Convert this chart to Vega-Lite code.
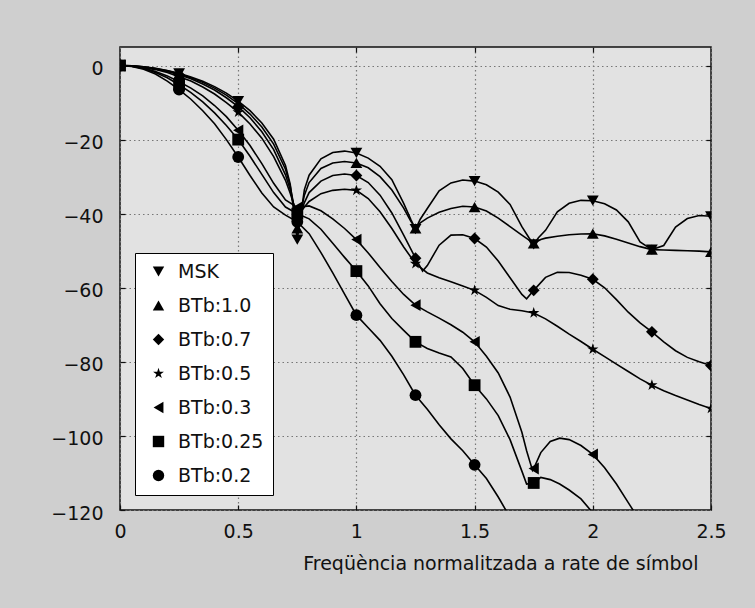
{
"$schema":"https://vega.github.io/schema/vega-lite/v6.json",
"width":591,"height":463,
"autosize":{"type":"none"},
"padding":{"left":120,"top":47,"right":44,"bottom":98},
"background":"#cfcfcf",
"config":{
 "view":{"fill":"#e2e2e2","stroke":"#111","strokeWidth":1.5},
 "font":"DejaVu Sans",
 "axis":{"domain":false,"labelFont":"DejaVu Sans","labelFontSize":19,"labelColor":"#111","labelFlush":false,"titleFont":"DejaVu Sans","titleFontWeight":"normal","titleColor":"#111","tickColor":"#111","tickWidth":1.2,"gridColor":"#777","gridDash":[1.5,3],"gridWidth":1.2},
 "legend":{"orient":"bottom-left","offset":15,"fillColor":"#ffffff","strokeColor":"#000","padding":9,"labelFont":"DejaVu Sans","labelFontSize":19,"labelColor":"#111","symbolSize":130,"rowPadding":14,"labelOffset":10,"symbolOffset":5,"symbolStrokeWidth":0}
},
"datasets":{"psd":[
{"s":"MSK","f":0,"p":0},{"s":"MSK","f":0.05,"p":-0.08},{"s":"MSK","f":0.1,"p":-0.33},{"s":"MSK","f":0.15,"p":-0.75},{"s":"MSK","f":0.2,"p":-1.33},{"s":"MSK","f":0.25,"p":-2.1},{"s":"MSK","f":0.3,"p":-3.07},{"s":"MSK","f":0.35,"p":-4.26},{"s":"MSK","f":0.4,"p":-5.7},{"s":"MSK","f":0.45,"p":-7.44},{"s":"MSK","f":0.5,"p":-9.6},{"s":"MSK","f":0.55,"p":-12.2},{"s":"MSK","f":0.6,"p":-15.5},{"s":"MSK","f":0.65,"p":-19.9},{"s":"MSK","f":0.7,"p":-27},{"s":"MSK","f":0.72,"p":-32},{"s":"MSK","f":0.74,"p":-42},{"s":"MSK","f":0.75,"p":-47},{"s":"MSK","f":0.76,"p":-42.5},{"s":"MSK","f":0.78,"p":-33.5},{"s":"MSK","f":0.8,"p":-29.6},{"s":"MSK","f":0.85,"p":-25.2},{"s":"MSK","f":0.9,"p":-23.5},{"s":"MSK","f":0.95,"p":-23.1},{"s":"MSK","f":1.0,"p":-23.6},{"s":"MSK","f":1.05,"p":-25},{"s":"MSK","f":1.1,"p":-27.2},{"s":"MSK","f":1.15,"p":-30.8},{"s":"MSK","f":1.2,"p":-37.2},{"s":"MSK","f":1.23,"p":-41.5},{"s":"MSK","f":1.25,"p":-44.2},{"s":"MSK","f":1.27,"p":-41.5},{"s":"MSK","f":1.3,"p":-38.6},{"s":"MSK","f":1.35,"p":-33.8},{"s":"MSK","f":1.4,"p":-31.7},{"s":"MSK","f":1.45,"p":-30.9},{"s":"MSK","f":1.5,"p":-31.2},{"s":"MSK","f":1.55,"p":-32.2},{"s":"MSK","f":1.6,"p":-34.2},{"s":"MSK","f":1.65,"p":-37.5},{"s":"MSK","f":1.7,"p":-43.5},{"s":"MSK","f":1.73,"p":-46.5},{"s":"MSK","f":1.75,"p":-48.3},{"s":"MSK","f":1.77,"p":-46.5},{"s":"MSK","f":1.8,"p":-44.5},{"s":"MSK","f":1.85,"p":-39.5},{"s":"MSK","f":1.9,"p":-37.2},{"s":"MSK","f":1.95,"p":-36.4},{"s":"MSK","f":2.0,"p":-36.5},{"s":"MSK","f":2.05,"p":-37.3},{"s":"MSK","f":2.1,"p":-39},{"s":"MSK","f":2.15,"p":-42.2},{"s":"MSK","f":2.2,"p":-47.6},{"s":"MSK","f":2.25,"p":-49.7},{"s":"MSK","f":2.3,"p":-48.6},{"s":"MSK","f":2.35,"p":-43.6},{"s":"MSK","f":2.4,"p":-41.3},{"s":"MSK","f":2.45,"p":-40.5},{"s":"MSK","f":2.5,"p":-40.7},
{"s":"BTb:1.0","f":0,"p":0},{"s":"BTb:1.0","f":0.05,"p":-0.09},{"s":"BTb:1.0","f":0.1,"p":-0.35},{"s":"BTb:1.0","f":0.15,"p":-0.8},{"s":"BTb:1.0","f":0.2,"p":-1.42},{"s":"BTb:1.0","f":0.25,"p":-2.25},{"s":"BTb:1.0","f":0.3,"p":-3.3},{"s":"BTb:1.0","f":0.35,"p":-4.55},{"s":"BTb:1.0","f":0.4,"p":-6.1},{"s":"BTb:1.0","f":0.45,"p":-8},{"s":"BTb:1.0","f":0.5,"p":-10.3},{"s":"BTb:1.0","f":0.55,"p":-13.1},{"s":"BTb:1.0","f":0.6,"p":-16.6},{"s":"BTb:1.0","f":0.65,"p":-21.2},{"s":"BTb:1.0","f":0.7,"p":-28},{"s":"BTb:1.0","f":0.72,"p":-32.5},{"s":"BTb:1.0","f":0.74,"p":-39.5},{"s":"BTb:1.0","f":0.75,"p":-44},{"s":"BTb:1.0","f":0.76,"p":-41},{"s":"BTb:1.0","f":0.78,"p":-35},{"s":"BTb:1.0","f":0.8,"p":-31.6},{"s":"BTb:1.0","f":0.85,"p":-27.8},{"s":"BTb:1.0","f":0.9,"p":-26.3},{"s":"BTb:1.0","f":0.95,"p":-25.9},{"s":"BTb:1.0","f":1.0,"p":-26.3},{"s":"BTb:1.0","f":1.05,"p":-27.6},{"s":"BTb:1.0","f":1.1,"p":-30},{"s":"BTb:1.0","f":1.15,"p":-33.6},{"s":"BTb:1.0","f":1.2,"p":-38.5},{"s":"BTb:1.0","f":1.23,"p":-42},{"s":"BTb:1.0","f":1.25,"p":-44},{"s":"BTb:1.0","f":1.27,"p":-42.5},{"s":"BTb:1.0","f":1.3,"p":-41.2},{"s":"BTb:1.0","f":1.35,"p":-39.6},{"s":"BTb:1.0","f":1.4,"p":-38.6},{"s":"BTb:1.0","f":1.45,"p":-38},{"s":"BTb:1.0","f":1.5,"p":-38.2},{"s":"BTb:1.0","f":1.55,"p":-39.3},{"s":"BTb:1.0","f":1.6,"p":-41.2},{"s":"BTb:1.0","f":1.65,"p":-43.5},{"s":"BTb:1.0","f":1.7,"p":-45.8},{"s":"BTb:1.0","f":1.75,"p":-48},{"s":"BTb:1.0","f":1.78,"p":-47},{"s":"BTb:1.0","f":1.8,"p":-46.6},{"s":"BTb:1.0","f":1.85,"p":-46.1},{"s":"BTb:1.0","f":1.9,"p":-45.7},{"s":"BTb:1.0","f":1.95,"p":-45.5},{"s":"BTb:1.0","f":2.0,"p":-45.4},{"s":"BTb:1.0","f":2.05,"p":-46},{"s":"BTb:1.0","f":2.1,"p":-46.9},{"s":"BTb:1.0","f":2.15,"p":-47.9},{"s":"BTb:1.0","f":2.2,"p":-48.9},{"s":"BTb:1.0","f":2.25,"p":-49.7},{"s":"BTb:1.0","f":2.3,"p":-49.8},{"s":"BTb:1.0","f":2.35,"p":-49.9},{"s":"BTb:1.0","f":2.4,"p":-50},{"s":"BTb:1.0","f":2.45,"p":-50.1},{"s":"BTb:1.0","f":2.5,"p":-50.3},
{"s":"BTb:0.7","f":0,"p":0},{"s":"BTb:0.7","f":0.05,"p":-0.1},{"s":"BTb:0.7","f":0.1,"p":-0.4},{"s":"BTb:0.7","f":0.15,"p":-0.9},{"s":"BTb:0.7","f":0.2,"p":-1.6},{"s":"BTb:0.7","f":0.25,"p":-2.5},{"s":"BTb:0.7","f":0.3,"p":-3.6},{"s":"BTb:0.7","f":0.35,"p":-5},{"s":"BTb:0.7","f":0.4,"p":-6.6},{"s":"BTb:0.7","f":0.45,"p":-8.7},{"s":"BTb:0.7","f":0.5,"p":-11.1},{"s":"BTb:0.7","f":0.55,"p":-14.1},{"s":"BTb:0.7","f":0.6,"p":-17.9},{"s":"BTb:0.7","f":0.65,"p":-22.7},{"s":"BTb:0.7","f":0.7,"p":-29.5},{"s":"BTb:0.7","f":0.72,"p":-33.5},{"s":"BTb:0.7","f":0.74,"p":-39},{"s":"BTb:0.7","f":0.75,"p":-42},{"s":"BTb:0.7","f":0.76,"p":-40.8},{"s":"BTb:0.7","f":0.78,"p":-37},{"s":"BTb:0.7","f":0.8,"p":-34.3},{"s":"BTb:0.7","f":0.85,"p":-31.2},{"s":"BTb:0.7","f":0.9,"p":-29.7},{"s":"BTb:0.7","f":0.95,"p":-29.3},{"s":"BTb:0.7","f":1.0,"p":-29.7},{"s":"BTb:0.7","f":1.05,"p":-31.6},{"s":"BTb:0.7","f":1.1,"p":-35},{"s":"BTb:0.7","f":1.15,"p":-39.8},{"s":"BTb:0.7","f":1.2,"p":-45.8},{"s":"BTb:0.7","f":1.25,"p":-52},{"s":"BTb:0.7","f":1.28,"p":-55.5},{"s":"BTb:0.7","f":1.3,"p":-54},{"s":"BTb:0.7","f":1.35,"p":-48.5},{"s":"BTb:0.7","f":1.4,"p":-45.8},{"s":"BTb:0.7","f":1.45,"p":-45.7},{"s":"BTb:0.7","f":1.5,"p":-46.7},{"s":"BTb:0.7","f":1.55,"p":-49},{"s":"BTb:0.7","f":1.6,"p":-52.8},{"s":"BTb:0.7","f":1.65,"p":-57.3},{"s":"BTb:0.7","f":1.7,"p":-61.8},{"s":"BTb:0.7","f":1.72,"p":-63},{"s":"BTb:0.7","f":1.75,"p":-60.7},{"s":"BTb:0.7","f":1.8,"p":-57.2},{"s":"BTb:0.7","f":1.85,"p":-55.8},{"s":"BTb:0.7","f":1.9,"p":-55.9},{"s":"BTb:0.7","f":1.95,"p":-56.6},{"s":"BTb:0.7","f":2.0,"p":-57.7},{"s":"BTb:0.7","f":2.05,"p":-60},{"s":"BTb:0.7","f":2.1,"p":-63.2},{"s":"BTb:0.7","f":2.15,"p":-66.6},{"s":"BTb:0.7","f":2.2,"p":-69.5},{"s":"BTb:0.7","f":2.25,"p":-71.9},{"s":"BTb:0.7","f":2.3,"p":-74.6},{"s":"BTb:0.7","f":2.35,"p":-77},{"s":"BTb:0.7","f":2.4,"p":-78.8},{"s":"BTb:0.7","f":2.45,"p":-80},{"s":"BTb:0.7","f":2.5,"p":-81},
{"s":"BTb:0.5","f":0,"p":0},{"s":"BTb:0.5","f":0.05,"p":-0.12},{"s":"BTb:0.5","f":0.1,"p":-0.5},{"s":"BTb:0.5","f":0.15,"p":-1.1},{"s":"BTb:0.5","f":0.2,"p":-1.9},{"s":"BTb:0.5","f":0.25,"p":-3},{"s":"BTb:0.5","f":0.3,"p":-4.2},{"s":"BTb:0.5","f":0.35,"p":-5.8},{"s":"BTb:0.5","f":0.4,"p":-7.7},{"s":"BTb:0.5","f":0.45,"p":-10},{"s":"BTb:0.5","f":0.5,"p":-12.6},{"s":"BTb:0.5","f":0.55,"p":-15.8},{"s":"BTb:0.5","f":0.6,"p":-19.6},{"s":"BTb:0.5","f":0.65,"p":-24.6},{"s":"BTb:0.5","f":0.7,"p":-31},{"s":"BTb:0.5","f":0.72,"p":-34.5},{"s":"BTb:0.5","f":0.74,"p":-38.5},{"s":"BTb:0.5","f":0.75,"p":-40.5},{"s":"BTb:0.5","f":0.76,"p":-40},{"s":"BTb:0.5","f":0.78,"p":-38.2},{"s":"BTb:0.5","f":0.8,"p":-36.7},{"s":"BTb:0.5","f":0.85,"p":-34.6},{"s":"BTb:0.5","f":0.9,"p":-33.7},{"s":"BTb:0.5","f":0.95,"p":-33.4},{"s":"BTb:0.5","f":1.0,"p":-33.7},{"s":"BTb:0.5","f":1.05,"p":-35.9},{"s":"BTb:0.5","f":1.1,"p":-39.5},{"s":"BTb:0.5","f":1.15,"p":-44},{"s":"BTb:0.5","f":1.2,"p":-49},{"s":"BTb:0.5","f":1.25,"p":-53.5},{"s":"BTb:0.5","f":1.3,"p":-56},{"s":"BTb:0.5","f":1.35,"p":-57.3},{"s":"BTb:0.5","f":1.4,"p":-58.4},{"s":"BTb:0.5","f":1.45,"p":-59.5},{"s":"BTb:0.5","f":1.5,"p":-60.7},{"s":"BTb:0.5","f":1.55,"p":-62.6},{"s":"BTb:0.5","f":1.6,"p":-64.8},{"s":"BTb:0.5","f":1.65,"p":-65.8},{"s":"BTb:0.5","f":1.7,"p":-66.2},{"s":"BTb:0.5","f":1.75,"p":-66.8},{"s":"BTb:0.5","f":1.8,"p":-68.4},{"s":"BTb:0.5","f":1.85,"p":-70.4},{"s":"BTb:0.5","f":1.9,"p":-72.5},{"s":"BTb:0.5","f":1.95,"p":-74.5},{"s":"BTb:0.5","f":2.0,"p":-76.6},{"s":"BTb:0.5","f":2.05,"p":-78.6},{"s":"BTb:0.5","f":2.1,"p":-80.6},{"s":"BTb:0.5","f":2.15,"p":-82.6},{"s":"BTb:0.5","f":2.2,"p":-84.6},{"s":"BTb:0.5","f":2.25,"p":-86.3},{"s":"BTb:0.5","f":2.3,"p":-87.8},{"s":"BTb:0.5","f":2.35,"p":-89.1},{"s":"BTb:0.5","f":2.4,"p":-90.3},{"s":"BTb:0.5","f":2.45,"p":-91.5},{"s":"BTb:0.5","f":2.5,"p":-92.6},
{"s":"BTb:0.3","f":0,"p":0},{"s":"BTb:0.3","f":0.05,"p":-0.18},{"s":"BTb:0.3","f":0.1,"p":-0.7},{"s":"BTb:0.3","f":0.15,"p":-1.6},{"s":"BTb:0.3","f":0.2,"p":-2.8},{"s":"BTb:0.3","f":0.25,"p":-4.4},{"s":"BTb:0.3","f":0.3,"p":-6.1},{"s":"BTb:0.3","f":0.35,"p":-8.2},{"s":"BTb:0.3","f":0.4,"p":-10.8},{"s":"BTb:0.3","f":0.45,"p":-13.8},{"s":"BTb:0.3","f":0.5,"p":-17.5},{"s":"BTb:0.3","f":0.55,"p":-21.6},{"s":"BTb:0.3","f":0.6,"p":-26.5},{"s":"BTb:0.3","f":0.65,"p":-31.8},{"s":"BTb:0.3","f":0.7,"p":-36.3},{"s":"BTb:0.3","f":0.75,"p":-38.3},{"s":"BTb:0.3","f":0.8,"p":-37.9},{"s":"BTb:0.3","f":0.85,"p":-39.2},{"s":"BTb:0.3","f":0.9,"p":-41.4},{"s":"BTb:0.3","f":0.95,"p":-44},{"s":"BTb:0.3","f":1.0,"p":-47},{"s":"BTb:0.3","f":1.05,"p":-50.6},{"s":"BTb:0.3","f":1.1,"p":-54.5},{"s":"BTb:0.3","f":1.15,"p":-58.3},{"s":"BTb:0.3","f":1.2,"p":-61.8},{"s":"BTb:0.3","f":1.25,"p":-64.7},{"s":"BTb:0.3","f":1.3,"p":-66.5},{"s":"BTb:0.3","f":1.35,"p":-68.2},{"s":"BTb:0.3","f":1.4,"p":-70},{"s":"BTb:0.3","f":1.45,"p":-72},{"s":"BTb:0.3","f":1.5,"p":-74.6},{"s":"BTb:0.3","f":1.55,"p":-78.5},{"s":"BTb:0.3","f":1.6,"p":-83},{"s":"BTb:0.3","f":1.65,"p":-89.5},{"s":"BTb:0.3","f":1.7,"p":-99},{"s":"BTb:0.3","f":1.72,"p":-104},{"s":"BTb:0.3","f":1.745,"p":-109.3},{"s":"BTb:0.3","f":1.75,"p":-108.8},{"s":"BTb:0.3","f":1.78,"p":-104.5},{"s":"BTb:0.3","f":1.82,"p":-101.5},{"s":"BTb:0.3","f":1.86,"p":-100.6},{"s":"BTb:0.3","f":1.9,"p":-101},{"s":"BTb:0.3","f":1.95,"p":-102.6},{"s":"BTb:0.3","f":2.0,"p":-105},{"s":"BTb:0.3","f":2.05,"p":-108.6},{"s":"BTb:0.3","f":2.1,"p":-113},{"s":"BTb:0.3","f":2.15,"p":-118},{"s":"BTb:0.3","f":2.2,"p":-123},
{"s":"BTb:0.25","f":0,"p":0},{"s":"BTb:0.25","f":0.05,"p":-0.2},{"s":"BTb:0.25","f":0.1,"p":-0.8},{"s":"BTb:0.25","f":0.15,"p":-1.9},{"s":"BTb:0.25","f":0.2,"p":-3.3},{"s":"BTb:0.25","f":0.25,"p":-5.2},{"s":"BTb:0.25","f":0.3,"p":-7.3},{"s":"BTb:0.25","f":0.35,"p":-9.8},{"s":"BTb:0.25","f":0.4,"p":-12.8},{"s":"BTb:0.25","f":0.45,"p":-16.2},{"s":"BTb:0.25","f":0.5,"p":-20},{"s":"BTb:0.25","f":0.55,"p":-24.5},{"s":"BTb:0.25","f":0.6,"p":-29.4},{"s":"BTb:0.25","f":0.65,"p":-34.3},{"s":"BTb:0.25","f":0.7,"p":-38.2},{"s":"BTb:0.25","f":0.75,"p":-40},{"s":"BTb:0.25","f":0.8,"p":-41.4},{"s":"BTb:0.25","f":0.85,"p":-44.2},{"s":"BTb:0.25","f":0.9,"p":-48},{"s":"BTb:0.25","f":0.95,"p":-51.8},{"s":"BTb:0.25","f":1.0,"p":-55.5},{"s":"BTb:0.25","f":1.05,"p":-59.5},{"s":"BTb:0.25","f":1.1,"p":-64.3},{"s":"BTb:0.25","f":1.15,"p":-68.3},{"s":"BTb:0.25","f":1.2,"p":-71.5},{"s":"BTb:0.25","f":1.25,"p":-74.6},{"s":"BTb:0.25","f":1.3,"p":-76.4},{"s":"BTb:0.25","f":1.35,"p":-77.6},{"s":"BTb:0.25","f":1.4,"p":-78.7},{"s":"BTb:0.25","f":1.45,"p":-81.8},{"s":"BTb:0.25","f":1.5,"p":-86.3},{"s":"BTb:0.25","f":1.55,"p":-90},{"s":"BTb:0.25","f":1.6,"p":-94.5},{"s":"BTb:0.25","f":1.65,"p":-101},{"s":"BTb:0.25","f":1.7,"p":-109.5},{"s":"BTb:0.25","f":1.72,"p":-113},{"s":"BTb:0.25","f":1.75,"p":-112.7},{"s":"BTb:0.25","f":1.78,"p":-111.2},{"s":"BTb:0.25","f":1.82,"p":-111.8},{"s":"BTb:0.25","f":1.86,"p":-113},{"s":"BTb:0.25","f":1.9,"p":-114.6},{"s":"BTb:0.25","f":1.95,"p":-117},{"s":"BTb:0.25","f":1.99,"p":-120},{"s":"BTb:0.25","f":2.04,"p":-124},
{"s":"BTb:0.2","f":0,"p":0},{"s":"BTb:0.2","f":0.05,"p":-0.25},{"s":"BTb:0.2","f":0.1,"p":-1},{"s":"BTb:0.2","f":0.15,"p":-2.3},{"s":"BTb:0.2","f":0.2,"p":-4.2},{"s":"BTb:0.2","f":0.25,"p":-6.5},{"s":"BTb:0.2","f":0.3,"p":-9.1},{"s":"BTb:0.2","f":0.35,"p":-12.2},{"s":"BTb:0.2","f":0.4,"p":-15.7},{"s":"BTb:0.2","f":0.45,"p":-20},{"s":"BTb:0.2","f":0.5,"p":-24.7},{"s":"BTb:0.2","f":0.55,"p":-29.7},{"s":"BTb:0.2","f":0.6,"p":-34.4},{"s":"BTb:0.2","f":0.65,"p":-38.2},{"s":"BTb:0.2","f":0.7,"p":-40.4},{"s":"BTb:0.2","f":0.75,"p":-42.2},{"s":"BTb:0.2","f":0.8,"p":-45.4},{"s":"BTb:0.2","f":0.85,"p":-50.5},{"s":"BTb:0.2","f":0.9,"p":-56},{"s":"BTb:0.2","f":0.95,"p":-61.7},{"s":"BTb:0.2","f":1.0,"p":-67.4},{"s":"BTb:0.2","f":1.05,"p":-70.8},{"s":"BTb:0.2","f":1.1,"p":-74.2},{"s":"BTb:0.2","f":1.15,"p":-78.5},{"s":"BTb:0.2","f":1.2,"p":-83.5},{"s":"BTb:0.2","f":1.25,"p":-89},{"s":"BTb:0.2","f":1.3,"p":-92.8},{"s":"BTb:0.2","f":1.35,"p":-97},{"s":"BTb:0.2","f":1.4,"p":-100.8},{"s":"BTb:0.2","f":1.45,"p":-104},{"s":"BTb:0.2","f":1.5,"p":-107.8},{"s":"BTb:0.2","f":1.55,"p":-111.5},{"s":"BTb:0.2","f":1.6,"p":-116.5},{"s":"BTb:0.2","f":1.65,"p":-122}
]},
"data":{"name":"psd"},
"resolve":{"axis":{"x":"independent","y":"independent"}},
"layer":[
 {"mark":{"type":"line","clip":true,"strokeWidth":1.6,"color":"#000"},
  "encoding":{
   "x":{"field":"f","type":"quantitative","scale":{"domain":[0,2.5],"nice":false,"zero":false},
        "axis":{"orient":"bottom","values":[0,0.5,1,1.5,2,2.5],"format":"~g","grid":true,"tickSize":-5,"labelPadding":32,"labelBaseline":"alphabetic","title":"Freqüència normalitzada a rate de símbol","titleFontSize":19,"titleX":578,"titleAlign":"right","titleBaseline":"alphabetic","titleY":59}},
   "y":{"field":"p","type":"quantitative","scale":{"domain":[-120,5],"nice":false,"zero":false},
        "axis":{"orient":"left","values":[0,-20,-40,-60,-80,-100,-120],"format":"d","grid":true,"tickSize":-5,"labelPadding":22,"labelOffset":3,"title":null}},
   "detail":{"field":"s","type":"nominal"}
  }},
 {"transform":[{"filter":"abs(datum.f*4-round(datum.f*4))<0.000001"}],
  "mark":{"type":"point","filled":true,"clip":true,"color":"#000","opacity":1,"size":140},
  "encoding":{
   "x":{"field":"f","type":"quantitative","axis":null},
   "y":{"field":"p","type":"quantitative","axis":null},
   "shape":{"field":"s","type":"nominal",
     "scale":{"domain":["MSK","BTb:1.0","BTb:0.7","BTb:0.5","BTb:0.3","BTb:0.25","BTb:0.2"],
              "range":["triangle-down","triangle-up","diamond","M0,-1L0.225,-0.309L0.951,-0.309L0.363,0.118L0.588,0.809L0,0.382L-0.588,0.809L-0.363,0.118L-0.951,-0.309L-0.225,-0.309Z","triangle-left","square","circle"]},
     "legend":{"title":null}}
  }},
 {"mark":{"type":"point","opacity":0},
  "encoding":{
   "x":{"field":"f","type":"quantitative","axis":{"orient":"top","values":[0.5,1,1.5,2],"labels":false,"grid":false,"tickSize":-5,"title":null}},
   "y":{"field":"p","type":"quantitative","axis":{"orient":"right","values":[0,-20,-40,-60,-80,-100],"labels":false,"grid":false,"tickSize":-5,"title":null}}
  }}
]
}
